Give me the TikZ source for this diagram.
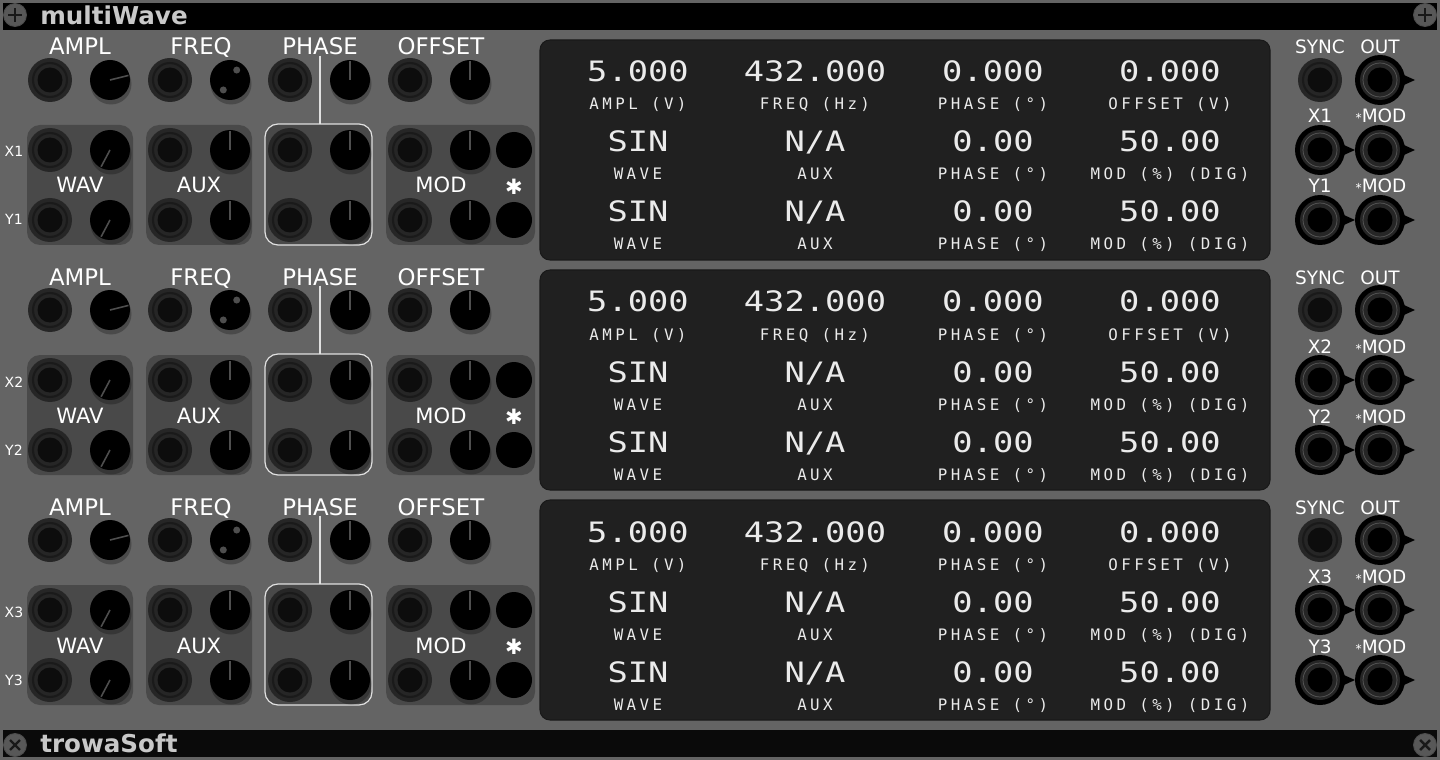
\documentclass[tikz,border=0pt]{standalone}
\usepackage{fontspec}
\usepackage{tikz}
\usetikzlibrary{calc}
\setmainfont{DejaVu Sans}
\newfontfamily\lcdfont[FakeStretch=1.2]{DejaVu Sans Mono}
\newfontfamily\lcdlabelfont[LetterSpace=22]{DejaVu Sans Mono}
\definecolor{panelgray}{RGB}{100,100,100}
\definecolor{boxgray}{RGB}{73,73,73}
\definecolor{jackgray}{RGB}{38,38,38}
\definecolor{jackring}{RGB}{26,26,26}
\definecolor{screengray}{RGB}{32,32,32}
\definecolor{titlegray}{RGB}{200,200,200}
\definecolor{ptrgray}{RGB}{78,78,78}
\definecolor{screwgray}{RGB}{88,88,88}
\tikzstyle{grpbox}=[fill=boxgray, rounded corners=0.26cm]
\tikzstyle{phasebox}=[grpbox, draw=white!88!black, line width=0.7pt]
\tikzstyle{link}=[draw=white!88!black, line width=0.7pt]
\tikzstyle{screen}=[fill=screengray, draw=black!90, rounded corners=0.2cm, line width=0.6pt]
\tikzstyle{lbl}=[text=white, font=\fontsize{13}{13}\selectfont, inner sep=0pt, anchor=base]
\tikzstyle{boxlbl}=[text=white, font=\fontsize{12}{12}\selectfont, inner sep=0pt, anchor=base]
\tikzstyle{sidelbl}=[text=white, font=\fontsize{8}{8}\selectfont, inner sep=0pt, anchor=base]
\tikzstyle{outlbl}=[text=white, font=\fontsize{10.5}{10.5}\selectfont, inner sep=0pt, anchor=base]
\tikzstyle{lcdval}=[text=white!92!black, font=\lcdfont\fontsize{16}{16}\selectfont, inner sep=0pt, anchor=base]
\tikzstyle{lcdlbl}=[text=white!92!black, font=\lcdlabelfont\fontsize{9}{9}\selectfont, inner sep=0pt, anchor=base]
\tikzstyle{ptr}=[draw=ptrgray, line width=0.9pt]
\newcommand{\inJack}[2]{
	\coordinate (#1) at #2;
	\fill[jackgray] (#1) circle (22);
	\draw[jackring, line width=1.2pt] (#1) circle (17);
	\fill[black!95] (#1) circle (12.5);
}
\newcommand{\outJack}[2]{
	\coordinate (#1) at #2;
	\fill[black] ($(#1)+(15,-9)$) -- ($(#1)+(35,0)$) -- ($(#1)+(15,9)$) -- cycle;
	\fill[black] (#1) circle (25);
	\fill[jackgray] (#1) circle (20);
	\draw[gray!70!black, line width=0.4pt] (#1) circle (17);
	\fill[black] (#1) circle (12.5);
}
\newcommand{\knobDial}[3]{
	\coordinate (#1) at #2;
	\fill[black, opacity=0.25] ($(#1)+(1,4)$) circle (20.5);
	\fill[black] (#1) circle (20);
	\draw[ptr] (#1) -- ($(#1)+(#3:19)$);
}
\newcommand{\dotKnob}[2]{
	\coordinate (#1) at #2;
	\fill[black, opacity=0.25] ($(#1)+(1,4)$) circle (20.5);
	\fill[black] (#1) circle (20);
	\fill[ptrgray] ($(#1)+(-56:12)$) circle (3.5);
	\fill[ptrgray] ($(#1)+(124:12)$) circle (3.5);
}
\newcommand{\modBtn}[2]{
	\coordinate (#1) at #2;
	\fill[black] (#1) circle (18);
}
\newcommand{\screwHead}[3]{
	\coordinate (#1) at #2;
	\filldraw[fill=screwgray, draw=black!70, line width=0.5pt] (#1) circle (11.5);
	\draw[black!90, line width=1.4pt, rotate around={#3:(#1)}] ($(#1)+(-7,0)$) -- ($(#1)+(7,0)$) ($(#1)+(0,-7)$) -- ($(#1)+(0,7)$);
}
\newcommand{\lcdPair}[5]{
	\node[lcdval] (#1v) at (#2,#3) {#4};
	\node[lcdlbl] (#1l) at (#2,#3+28) {#5};
}
\begin{document}
\begin{tikzpicture}[x=0.02cm, y=-0.02cm]
	\fill[panelgray] (0,0) rectangle (1440,760);
	\useasboundingbox (0,0) rectangle (1440,760);
	\fill[black] (3,3) rectangle (1437,30);
	\fill[black!96] (3,730) rectangle (1437,757);
	\screwHead{scrTL}{(15,15)}{0}
	\screwHead{scrTR}{(1425,15)}{0}
	\screwHead{scrBL}{(15,745)}{45}
	\screwHead{scrBR}{(1425,745)}{45}
	\node[text=titlegray, font=\bfseries\fontsize{14}{14}\selectfont, inner sep=0pt, anchor=base west] (title) at (40,25) {multiWave};
	\node[text=titlegray, font=\bfseries\fontsize{14}{14}\selectfont, inner sep=0pt, anchor=base west] (brand) at (40,752) {trowaSoft};
	\foreach \r in {0,1,2}{
		\pgfmathtruncatemacro{\n}{\r+1}
		\begin{scope}[shift={(0,230*\r)}]
			% controls
			\node[lbl] (ampl\n) at (80,55) {AMPL};
			\node[lbl] (freq\n) at (201,55) {FREQ};
			\node[lbl] (phase\n) at (320,55) {PHASE};
			\node[lbl] (offset\n) at (441,55) {OFFSET};
			\inJack{amplin\n}{(50,80)}
			\knobDial{amplknob\n}{(110,80)}{-14}
			\inJack{freqin\n}{(170,80)}
			\dotKnob{freqknob\n}{(230,80)}
			\inJack{phasein\n}{(290,80)}
			\knobDial{phaseknob\n}{(350,80)}{-90}
			\inJack{offsetin\n}{(410,80)}
			\knobDial{offsetknob\n}{(470,80)}{-90}
			\fill[grpbox] (27,125) rectangle (133,245);
			\fill[grpbox] (146,125) rectangle (252,245);
			\draw[phasebox] (265,124) rectangle (372,245);
			\fill[grpbox] (386,125) rectangle (535,245);
			\coordinate (phtop\n) at (320,124);
			\draw[link] (phase\n.south) -- (phtop\n);
			\node[sidelbl] (xlbl\n) at (14,157) {X\n};
			\node[sidelbl] (ylbl\n) at (14,225) {Y\n};
			\node[boxlbl] (wav\n) at (80,193) {WAV};
			\node[boxlbl] (aux\n) at (199,193) {AUX};
			\node[boxlbl] (mod\n) at (441,193) {MOD};
			\node[text=white, font=\bfseries\fontsize{12}{12}\selectfont, inner sep=0pt] (star\n) at (514,187) {✱};
			\inJack{wavx\n}{(50,150)}
			\knobDial{wavxk\n}{(110,150)}{118}
			\inJack{wavy\n}{(50,220)}
			\knobDial{wavyk\n}{(110,220)}{118}
			\inJack{auxx\n}{(170,150)}
			\knobDial{auxxk\n}{(230,150)}{-90}
			\inJack{auxy\n}{(170,220)}
			\knobDial{auxyk\n}{(230,220)}{-90}
			\inJack{phx\n}{(290,150)}
			\knobDial{phxk\n}{(350,150)}{-90}
			\inJack{phy\n}{(290,220)}
			\knobDial{phyk\n}{(350,220)}{-90}
			\inJack{modx\n}{(410,150)}
			\knobDial{modxk\n}{(470,150)}{-90}
			\modBtn{modxb\n}{(514,150)}
			\inJack{mody\n}{(410,220)}
			\knobDial{modyk\n}{(470,220)}{-90}
			\modBtn{modyb\n}{(514,220)}
			% display
			\draw[screen] (540,40) rectangle (1270,260);
			\lcdPair{ampd\n}{638}{82}{5.000}{AMPL (V)}
			\lcdPair{frqd\n}{815}{82}{432.000}{FREQ (Hz)}
			\lcdPair{phd\n}{993}{82}{0.000}{PHASE (°)}
			\lcdPair{offd\n}{1170}{82}{0.000}{OFFSET (V)}
			\lcdPair{wavxd\n}{638}{152}{SIN}{WAVE}
			\lcdPair{auxxd\n}{815}{152}{N/A}{AUX}
			\lcdPair{phxd\n}{993}{152}{0.00}{PHASE (°)}
			\lcdPair{modxd\n}{1170}{152}{50.00}{MOD (\%) (DIG)}
			\lcdPair{wavyd\n}{638}{222}{SIN}{WAVE}
			\lcdPair{auxyd\n}{815}{222}{N/A}{AUX}
			\lcdPair{phyd\n}{993}{222}{0.00}{PHASE (°)}
			\lcdPair{modyd\n}{1170}{222}{50.00}{MOD (\%) (DIG)}
			% outputs
			\node[outlbl] (sync\n) at (1320,54) {SYNC};
			\node[outlbl] (out\n) at (1380,54) {OUT};
			\node[outlbl] (xo\n) at (1320,123) {X\n};
			\node[outlbl] (xm\n) at (1381,123) {{\scriptsize *}MOD};
			\node[outlbl] (yo\n) at (1320,193) {Y\n};
			\node[outlbl] (ym\n) at (1381,193) {{\scriptsize *}MOD};
			\inJack{syncin\n}{(1320,80)}
			\outJack{outj\n}{(1380,80)}
			\outJack{xoj\n}{(1320,150)}
			\outJack{xmj\n}{(1380,150)}
			\outJack{yoj\n}{(1320,220)}
			\outJack{ymj\n}{(1380,220)}
		\end{scope}
	}
\end{tikzpicture}
\end{document}
